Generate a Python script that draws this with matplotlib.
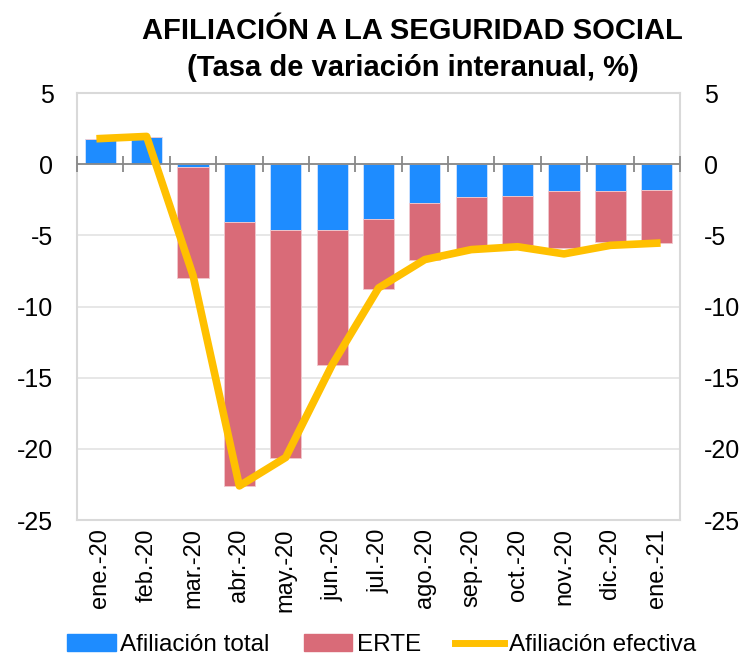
import matplotlib.pyplot as plt
import numpy as np
from matplotlib.patches import Patch
from matplotlib.lines import Line2D

# datos
meses = ['ene.-20', 'feb.-20', 'mar.-20', 'abr.-20', 'may.-20', 'jun.-20', 'jul.-20',
         'ago.-20', 'sep.-20', 'oct.-20', 'nov.-20', 'dic.-20', 'ene.-21']
afil_total = [1.8, 1.9, -0.2, -4.05, -4.6, -4.6, -3.85, -2.75, -2.3, -2.25, -1.85, -1.9, -1.8]
erte = [0.0, 0.0, -7.8, -18.55, -16.05, -9.5, -4.95, -4.0, -3.7, -3.4, -4.05, -3.55, -3.75]
afil_efectiva = [1.8, 1.95, -7.8, -22.6, -20.6, -14.1, -8.7, -6.7, -6.0, -5.8, -6.3, -5.7, -5.55]

plt.rcParams['font.family'] = ['Liberation Sans', 'DejaVu Sans']
plt.rcParams['axes.unicode_minus'] = False

fig = plt.figure(figsize=(7.48, 6.55), dpi=100)
ax = fig.add_axes([0.103, 0.206, 0.806, 0.652])

x = np.arange(len(meses))
azul = '#1E8CFF'
rojo = '#D96B78'
amarillo = '#FFC000'

ax.bar(x, afil_total, width=0.67, color=azul, edgecolor='#d0e4ff', linewidth=0.6, zorder=2)
ax.bar(x, erte, width=0.67, bottom=afil_total, color=rojo, edgecolor='#f0c8cd', linewidth=0.6, zorder=2)

# eje en el cero con marcas entre categorias
ax.axhline(0, color='#888888', linewidth=1.3, zorder=3)
bordes = np.arange(-0.5, len(meses), 1)
ax.plot(bordes, np.zeros(len(bordes)), ls='none', marker='|', markersize=11,
        markeredgewidth=1.3, color='#888888', zorder=3, clip_on=False)

ax.plot(x, afil_efectiva, color=amarillo, linewidth=5.5, zorder=4)

ax.set_xlim(-0.5, len(meses) - 0.5)
ax.set_ylim(-25, 5)
ax.set_yticks(np.arange(-25, 6, 5))
ax.yaxis.grid(True, color='#e3e3e3', linewidth=1.2, zorder=0)
ax.set_axisbelow(True)
for s in ax.spines.values():
    s.set_color('#d9d9d9')
    s.set_linewidth(1.5)

ax.set_xticks(x)
ax.set_xticklabels(meses, rotation=90, fontsize=17)
ax.tick_params(axis='x', length=0, pad=6)
ax.tick_params(axis='y', length=0, labelsize=18, pad=17)

ax2 = ax.twinx()
ax2.set_ylim(-25, 5)
ax2.set_yticks(np.arange(-25, 6, 5))
ax2.tick_params(axis='y', length=0, labelsize=18, pad=17)
for s in ax2.spines.values():
    s.set_visible(False)

fig.text(0.552, 0.953, 'AFILIACIÓN A LA SEGURIDAD SOCIAL', ha='center', va='center',
         fontsize=21, fontweight='bold')
fig.text(0.552, 0.896, '(Tasa de variación interanual, %)', ha='center', va='center',
         fontsize=21, fontweight='bold')

handles = [Patch(color=azul), Patch(color=rojo), Line2D([], [], color=amarillo, linewidth=5)]
fig.legend(handles, ['Afiliación total', 'ERTE', 'Afiliación efectiva'], loc='lower center',
           bbox_to_anchor=(0.51, -0.035), ncol=3, frameon=False, fontsize=17.5,
           handlelength=2.0, handletextpad=0.2, columnspacing=1.4)

fig.savefig('out.png', dpi=100)
